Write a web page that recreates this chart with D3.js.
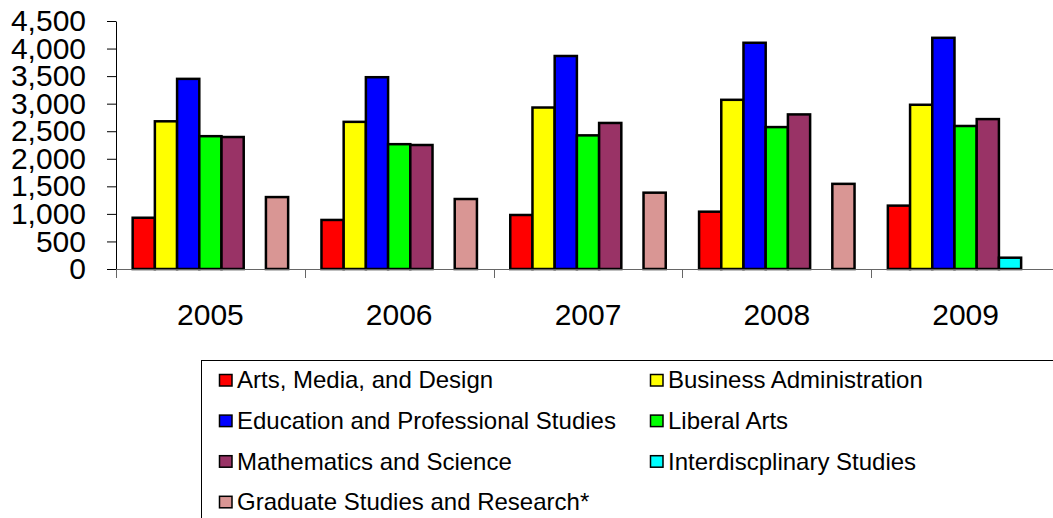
<!DOCTYPE html>
<html>
<head>
<meta charset="utf-8">
<script src="https://cdn.jsdelivr.net/npm/d3@7"></script>
<style>
  body { margin: 0; background: #fff; }
  text { font-family: "Liberation Sans", Arial, sans-serif; fill: #000; }
</style>
</head>
<body>
<div id="chart"></div>
<script>
// data
var years = ["2005", "2006", "2007", "2008", "2009"];
var seriesNames = [
  "Arts, Media, and Design",
  "Business Administration",
  "Education and Professional Studies",
  "Liberal Arts",
  "Mathematics and Science",
  "Interdiscplinary Studies",
  "Graduate Studies and Research*"
];
var arts      = [930, 890, 980, 1040, 1150];
var business  = [2680, 2670, 2930, 3070, 2980];
var education = [3450, 3480, 3865, 4105, 4195];
var liberal   = [2410, 2265, 2425, 2575, 2595];
var math      = [2395, 2250, 2650, 2805, 2720];
var interdisc = [0, 0, 0, 0, 205];
var graduate  = [1305, 1270, 1385, 1545, 0];
var yTicks = [0, 500, 1000, 1500, 2000, 2500, 3000, 3500, 4000, 4500];

var seriesValues = [arts, business, education, liberal, math, interdisc, graduate];
var colors = ["#ff0000", "#ffff00", "#0000ff", "#00ff00", "#993366", "#00ffff", "#d99694"];

var W = 1053, H = 518;
var plotL = 116, plotR = 1060, plotT = 21, plotB = 269;

var svg = d3.select("#chart")
  .append("svg")
    .attr("width", W)
    .attr("height", H);

svg.append("rect").attr("width", W).attr("height", H).attr("fill", "#fff");

// scales
var x0 = d3.scaleBand()
  .domain(years)
  .range([plotL, plotR]);

var x1 = d3.scaleBand()
  .domain(seriesNames)
  .range([0, x0.bandwidth()])
  .paddingInner(0)
  .paddingOuter(0.75);

var y = d3.scaleLinear()
  .domain([0, 4500])
  .range([plotB, plotT]);

var color = d3.scaleOrdinal().domain(seriesNames).range(colors);

// bars
var groups = svg.append("g").selectAll("g")
  .data(years)
  .enter().append("g")
    .attr("transform", function(d) { return "translate(" + x0(d) + ",0)"; });

groups.selectAll("rect")
  .data(function(d, i) {
    return seriesNames.map(function(s, j) { return {name: s, value: seriesValues[j][i]}; })
      .filter(function(e) { return e.value > 0; });
  })
  .enter().append("rect")
    .attr("x", function(d) { return x1(d.name); })
    .attr("y", function(d) { return y(d.value); })
    .attr("width", x1.bandwidth())
    .attr("height", function(d) { return y(0) - y(d.value); })
    .attr("fill", function(d) { return color(d.name); })
    .attr("stroke", "#000")
    .attr("stroke-width", 2.5);

// Y axis
var yAxis = svg.append("g")
  .attr("transform", "translate(" + plotL + ",0)")
  .call(d3.axisLeft(y).tickValues(yTicks).tickFormat(d3.format(",")).tickSize(9).tickSizeOuter(0).tickPadding(21));
yAxis.select(".domain").attr("stroke", "#000");
yAxis.selectAll(".tick line").attr("stroke", "#000");
yAxis.selectAll("text")
  .style("font-family", "'Liberation Sans', Arial, sans-serif")
  .style("font-size", "30px")
  .attr("fill", "#000");

// X axis (ticks at category boundaries)
var xAxis = svg.append("g");
xAxis.append("line")
  .attr("x1", plotL).attr("x2", W)
  .attr("y1", y(0) + 0.5).attr("y2", y(0) + 0.5)
  .attr("stroke", "#666");
xAxis.selectAll(".xt")
  .data(years)
  .enter().append("line")
    .attr("class", "xt")
    .attr("x1", function(d) { return Math.round(x0(d)) + 0.5; })
    .attr("x2", function(d) { return Math.round(x0(d)) + 0.5; })
    .attr("y1", y(0))
    .attr("y2", y(0) + 9)
    .attr("stroke", "#666");
xAxis.selectAll(".xl")
  .data(years)
  .enter().append("text")
    .attr("class", "xl")
    .attr("x", function(d) { return x0(d) + x0.bandwidth() / 2; })
    .attr("y", 325)
    .attr("text-anchor", "middle")
    .style("font-size", "30px")
    .text(function(d) { return d; });

// legend
var legend = svg.append("g");
legend.append("rect")
  .attr("x", 201.5).attr("y", 360.5)
  .attr("width", 900).attr("height", 200)
  .attr("fill", "#fff")
  .attr("stroke", "#000");

var items = legend.selectAll(".item")
  .data(seriesNames)
  .enter().append("g")
    .attr("class", "item")
    .attr("transform", function(d, i) {
      return "translate(" + (219 + (i % 2) * 431) + "," + (380 + Math.floor(i / 2) * 40.6) + ")";
    });

items.append("rect")
  .attr("x", 0.5).attr("y", -5.5)
  .attr("width", 12.5).attr("height", 11.5)
  .attr("fill", function(d) { return color(d); })
  .attr("stroke", "#000")
  .attr("stroke-width", 1.5);

items.append("text")
  .attr("x", 18)
  .attr("dy", "0.35em")
  .style("font-size", "24px")
  .text(function(d) { return d; });
</script>
</body>
</html>
